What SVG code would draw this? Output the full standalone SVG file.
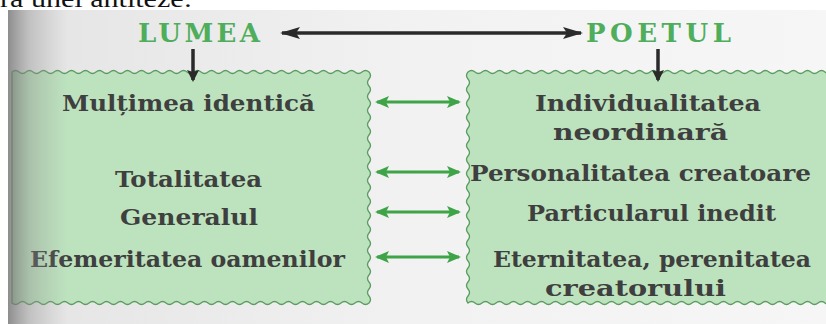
<svg xmlns="http://www.w3.org/2000/svg" width="826" height="324" viewBox="0 0 826 324">
<defs>
<linearGradient id="shadow" x1="0" y1="0" x2="1" y2="0">
<stop offset="0" stop-color="#707070" stop-opacity="0.75"/>
<stop offset="0.35" stop-color="#8a8a8a" stop-opacity="0.4"/>
<stop offset="1" stop-color="#a0a0a0" stop-opacity="0"/>
</linearGradient>
<linearGradient id="page" x1="0" y1="0" x2="1" y2="0">
<stop offset="0" stop-color="#e4e4e4"/>
<stop offset="0.5" stop-color="#f2f2f2"/>
<stop offset="1" stop-color="#f6f6f6"/>
</linearGradient>
<marker id="gh" viewBox="0 0 14 12" refX="12" refY="6" markerWidth="14" markerHeight="12" markerUnits="userSpaceOnUse" orient="auto-start-reverse">
<path d="M0 0 L14 6 L0 12 L3 6 Z" fill="#3ea447"/>
</marker>
<marker id="bh" viewBox="0 0 20 12" refX="18" refY="6" markerWidth="20" markerHeight="12" markerUnits="userSpaceOnUse" orient="auto-start-reverse">
<path d="M0 0 L20 6 L0 12 L4 6 Z" fill="#2a2a2a"/>
</marker>
<marker id="dh" viewBox="0 0 12 12" refX="10" refY="6" markerWidth="12" markerHeight="12" markerUnits="userSpaceOnUse" orient="auto">
<path d="M0 0 L12 6 L0 12 L2 6 Z" fill="#2a2a2a"/>
</marker>
</defs>
<style>
.box{fill:#bde3be;stroke:#5c9c62;stroke-width:1.3}
.t{font-family:"DejaVu Serif","Liberation Serif",serif;font-weight:bold;font-size:23px;fill:#3f3f3f}
.h{font-family:"DejaVu Serif","Liberation Serif",serif;font-weight:bold;font-size:26px;fill:#4fae5c}
.ga{stroke:#3ea447;stroke-width:3;fill:none;marker-start:url(#gh);marker-end:url(#gh)}
.ba{stroke:#2a2a2a;stroke-width:3.5;fill:none}
</style>
<rect x="0" y="0" width="826" height="324" fill="#ffffff"/>
<rect x="8" y="10" width="818" height="314" fill="url(#page)"/>
<text x="0" y="7" font-family="Liberation Serif, serif" font-size="24" fill="#111" textLength="192" lengthAdjust="spacingAndGlyphs">ra unei antiteze:</text>

<g id="lumea-box">
<path class="box" d="M12 72 q3.5 -3 7 0 t7 0 t7 0 t7 0 t7 0 t7 0 t7 0 t7 0 t7 0 t7 0 t7 0 t7 0 t7 0 t7 0 t7 0 t7 0 t7 0 t7 0 t7 0 t7 0 t7 0 t7 0 t7 0 t7 0 t7 0 t7 0 t7 0 t7 0 t7 0 t7 0 t7 0 t7 0 t7 0 t7 0 t7 0 t7 0 t7 0 t7 0 t7 0 t7 0 t7 0 t7 0 t7 0 t7 0 t7 0 t7 0 t7 0 t7 0 t7 0 t7 0 t7 0 q3 3.5 0 7 t0 7 t0 7 t0 7 t0 7 t0 7 t0 7 t0 7 t0 7 t0 7 t0 7 t0 7 t0 7 t0 7 t0 7 t0 7 t0 7 t0 7 t0 7 t0 7 t0 7 t0 7 t0 7 t0 7 t0 7 t0 7 t0 7 t0 7 t0 7 t0 7 t0 7 t0 7 t0 7 q-3.5 3 -7 0 t-7 0 t-7 0 t-7 0 t-7 0 t-7 0 t-7 0 t-7 0 t-7 0 t-7 0 t-7 0 t-7 0 t-7 0 t-7 0 t-7 0 t-7 0 t-7 0 t-7 0 t-7 0 t-7 0 t-7 0 t-7 0 t-7 0 t-7 0 t-7 0 t-7 0 t-7 0 t-7 0 t-7 0 t-7 0 t-7 0 t-7 0 t-7 0 t-7 0 t-7 0 t-7 0 t-7 0 t-7 0 t-7 0 t-7 0 t-7 0 t-7 0 t-7 0 t-7 0 t-7 0 t-7 0 t-7 0 t-7 0 t-7 0 t-7 0 t-7 0 Z"/>
<text class="t" x="62" y="111" textLength="253" lengthAdjust="spacingAndGlyphs">Mulțimea identică</text>
<text class="t" x="115" y="187" textLength="147" lengthAdjust="spacingAndGlyphs">Totalitatea</text>
<text class="t" x="120" y="225" textLength="138" lengthAdjust="spacingAndGlyphs">Generalul</text>
<text class="t" x="30" y="267" textLength="315" lengthAdjust="spacingAndGlyphs">Efemeritatea oamenilor</text>
</g>

<g id="poetul-box">
<path class="box" d="M468 72 q3.5 -3 7 0 t7 0 t7 0 t7 0 t7 0 t7 0 t7 0 t7 0 t7 0 t7 0 t7 0 t7 0 t7 0 t7 0 t7 0 t7 0 t7 0 t7 0 t7 0 t7 0 t7 0 t7 0 t7 0 t7 0 t7 0 t7 0 t7 0 t7 0 t7 0 t7 0 t7 0 t7 0 t7 0 t7 0 t7 0 t7 0 t7 0 t7 0 t7 0 t7 0 t7 0 t7 0 t7 0 t7 0 t7 0 t7 0 t7 0 t7 0 t7 0 t7 0 t7 0 t7 0 L840 72 L840 303 L832 303 q-3.5 3 -7 0 t-7 0 t-7 0 t-7 0 t-7 0 t-7 0 t-7 0 t-7 0 t-7 0 t-7 0 t-7 0 t-7 0 t-7 0 t-7 0 t-7 0 t-7 0 t-7 0 t-7 0 t-7 0 t-7 0 t-7 0 t-7 0 t-7 0 t-7 0 t-7 0 t-7 0 t-7 0 t-7 0 t-7 0 t-7 0 t-7 0 t-7 0 t-7 0 t-7 0 t-7 0 t-7 0 t-7 0 t-7 0 t-7 0 t-7 0 t-7 0 t-7 0 t-7 0 t-7 0 t-7 0 t-7 0 t-7 0 t-7 0 t-7 0 t-7 0 t-7 0 t-7 0 q-3 -3.5 0 -7 t0 -7 t0 -7 t0 -7 t0 -7 t0 -7 t0 -7 t0 -7 t0 -7 t0 -7 t0 -7 t0 -7 t0 -7 t0 -7 t0 -7 t0 -7 t0 -7 t0 -7 t0 -7 t0 -7 t0 -7 t0 -7 t0 -7 t0 -7 t0 -7 t0 -7 t0 -7 t0 -7 t0 -7 t0 -7 t0 -7 t0 -7 t0 -7 Z"/>
<text class="t" x="535" y="111" textLength="226" lengthAdjust="spacingAndGlyphs">Individualitatea</text>
<text class="t" x="553" y="140" textLength="175" lengthAdjust="spacingAndGlyphs">neordinară</text>
<text class="t" x="470" y="181" textLength="341" lengthAdjust="spacingAndGlyphs">Personalitatea creatoare</text>
<text class="t" x="527" y="221" textLength="249" lengthAdjust="spacingAndGlyphs">Particularul inedit</text>
<text class="t" x="493" y="267" textLength="318" lengthAdjust="spacingAndGlyphs">Eternitatea, perenitatea</text>
<text class="t" x="545" y="296" textLength="181" lengthAdjust="spacingAndGlyphs">creatorului</text>
</g>

<g id="lumea">
<text class="h" x="138" y="42" textLength="122" lengthAdjust="spacing">LUMEA</text>
</g>
<g id="poetul">
<text class="h" x="586" y="42" textLength="145" lengthAdjust="spacing">POETUL</text>
</g>

<g id="connectors">
<line class="ba" x1="282" y1="33" x2="581" y2="33" marker-start="url(#bh)" marker-end="url(#bh)"/>
<line class="ba" x1="193" y1="49" x2="193" y2="80" marker-end="url(#dh)"/>
<line class="ba" x1="658" y1="49" x2="658" y2="80" marker-end="url(#dh)"/>
<line class="ga" x1="377" y1="102" x2="459" y2="102"/>
<line class="ga" x1="377" y1="172" x2="459" y2="172"/>
<line class="ga" x1="377" y1="212" x2="459" y2="212"/>
<line class="ga" x1="377" y1="257" x2="459" y2="257"/>
</g>

<rect x="8" y="10" width="60" height="314" fill="url(#shadow)"/>
</svg>
